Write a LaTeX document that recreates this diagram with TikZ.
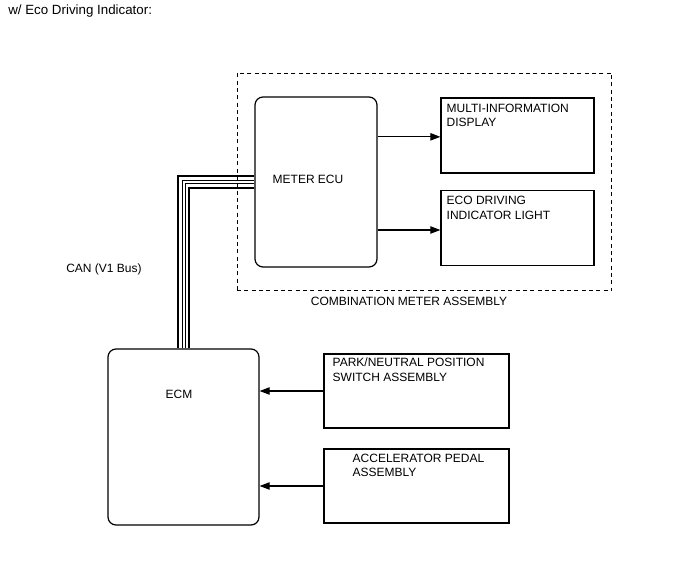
\documentclass[tikz,border=0pt]{standalone}
\usepackage{fontspec}
\setmainfont{Liberation Sans}
\usetikzlibrary{arrows.meta,positioning,fit}

\begin{document}
\begin{tikzpicture}[
    x=0.75pt, y=-0.75pt,
    font=\fontsize{9}{11}\selectfont,
    >={Triangle[length=7.5pt,width=5.5pt]},
    box/.style={draw, line width=0.9pt, minimum width=114.75pt, minimum height=56.25pt, inner sep=0pt},
    ecu/.style={box, rounded corners=6pt},
    txt/.style={inner sep=0pt, align=left, anchor=north west},
    link/.style={->, line width=0.8pt}
]
    \useasboundingbox (0,0) rectangle (688,560);

    % Title
    \node[txt, font=\fontsize{10}{12}\selectfont] (title) at (8,5) {w/ Eco Driving Indicator:};

    % Combination meter assembly
    \node[ecu, minimum width=91.5pt, minimum height=127.5pt] (meter) at (316,182) {};
    \node[box] (mid) at (517.5,135.5) {};
    \node[box] (eco) at (517.5,228) {};
    \node[draw, line width=0.8pt, dash pattern=on 3pt off 2.5pt, inner xsep=13pt, inner ysep=17.5pt, fit=(meter)(mid)(eco)] (cma) {};

    \node[inner sep=0pt] (meterlbl) at ([shift={(-8,-3)}]meter.center) {METER ECU};
    \node[txt] (midlbl) at ([shift={(6,6)}]mid.north west) {MULTI-INFORMATION\\DISPLAY};
    \node[txt] (ecolbl) at ([shift={(6,6)}]eco.north west) {ECO DRIVING\\INDICATOR LIGHT};
    \node[inner sep=0pt] (cmalbl) at (409,301) {COMBINATION METER ASSEMBLY};

    \draw[link] ([yshift=-1]meter.east |- mid.west) -- ([yshift=-1]mid.west);
    \draw[link] ([yshift=-1.5]meter.east |- eco.west) -- ([yshift=-1.5]eco.west);

    % ECM and inputs
    \node[ecu, minimum width=113.25pt, minimum height=132pt] (ecm) at (183.5,437) {};
    \node[box, minimum width=138.75pt, minimum height=55.5pt] (pnp) at (416.5,391) {};
    \node[box, minimum width=138.75pt, minimum height=55.5pt] (acc) at (416.5,486) {};

    \node[inner sep=0pt] (ecmlbl) at ([shift={(-4.5,-43)}]ecm.center) {ECM};
    \node[txt] (pnplbl) at ([shift={(9,4)}]pnp.north west) {PARK/NEUTRAL POSITION\\SWITCH ASSEMBLY};
    \node[txt] (acclbl) at ([shift={(29,5)}]acc.north west) {ACCELERATOR PEDAL\\ASSEMBLY};

    \draw[link] (pnp.west) -- (ecm.east |- pnp.west);
    \draw[link] (acc.west) -- (ecm.east |- acc.west);

    % CAN bus
    \node[inner sep=0pt] (canlbl) at (104,269) {CAN (V1 Bus)};
    \foreach \dx/\dy/\w in {-6/-6.5/1.5pt, -1.5/-2/0.75pt, 1.5/1.5/0.75pt, 5.5/5.5/1.5pt}
        \draw[line width=\w] ([shift={(\dx,0)}]ecm.north) |- ([shift={(0,\dy)}]meter.west);
\end{tikzpicture}
\end{document}
